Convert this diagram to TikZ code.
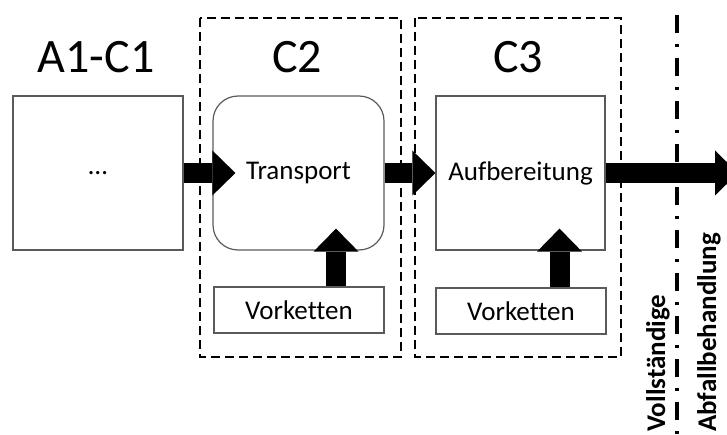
\documentclass[tikz,border=0pt]{standalone}
\usepackage{fontspec}
\setmainfont[Ligatures={NoCommon}]{Carlito}
\usetikzlibrary{arrows.meta}
\definecolor{boxgray}{RGB}{90,90,90}
\begin{document}
\begin{tikzpicture}[x=1pt,y=-1pt,
  box/.style={draw=boxgray,line width=1.2pt,fill=white,minimum width=#1,inner sep=0pt,
    font=\fontsize{27}{32}\selectfont},
  group/.style={draw=black,line width=2.8pt,dash pattern=on 9pt off 5pt},
  title/.style={font=\fontsize{48}{56}\selectfont,anchor=base,inner sep=0pt},
  bigarrow/.style={line width=20pt,-{Triangle[length=23pt,width=45pt,line width=0pt]}},
  vlabel/.style={font=\bfseries\fontsize{27}{32}\selectfont,rotate=90,anchor=base west,inner sep=0pt}]
\useasboundingbox (0,0) rectangle (727,435);
% groups
\draw[group] (200,18) rectangle (401,357);
\draw[group] (415,18) rectangle (621,357);
% titles
\node[title] (tA) at (96,73) {A1-C1};
\node[title] (tC2) at (297,73) {C2};
\node[title] (tC3) at (518,73) {C3};
% boxes
\node[box=170pt,minimum height=154pt] (boxA) at (98,173) {…};
\node[box=171pt,minimum height=154pt,rounded corners=25pt] (transport) at (298.5,173) {Transport};
\node[box=169pt,minimum height=154pt] (auf) at (520.5,173) {Aufbereitung};
\node[box=170pt,minimum height=46pt] (vk1) at (299,310) {Vorketten};
\node[box=170pt,minimum height=46pt] (vk2) at (521,311) {Vorketten};
% boundary line
\coordinate (dtop) at (677,15);
\coordinate (dbot) at (677,437);
\draw[line width=4pt,dash pattern=on 18pt off 11pt on 3pt off 11pt] (dtop) -- (dbot);
\node[vlabel] (vl1) at (665,432) {Vollständige};
\node[vlabel] (vl2) at (716,432) {Abfallbehandlung};
% arrows
\coordinate (out) at (738,173);
\coordinate (u1) at ([xshift=37pt]vk1.north);
\coordinate (u2) at ([xshift=38.5pt]vk2.north);
\draw[bigarrow,shorten >=-23pt] (boxA.east) -- (transport.west);
\draw[bigarrow] (transport.east) -- (auf.west);
\draw[bigarrow] (auf.east) -- (out);
\draw[bigarrow,shorten >=-22pt] (u1) -- (u1 |- transport.south);
\draw[bigarrow,shorten >=-22pt] (u2) -- (u2 |- auf.south);
\end{tikzpicture}
\end{document}
